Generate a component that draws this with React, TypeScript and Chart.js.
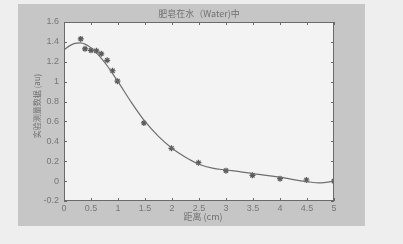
import React, { useEffect, useRef } from "react";
import { Chart, registerables } from "chart.js";

Chart.register(...registerables);

const titleText = "肥皂在水（Water)中";
const xLabel = "距离 (cm)";
const yLabel = "实验测量数据 (au)";

const measX = [0.31, 0.39, 0.5, 0.6, 0.69, 0.8, 0.9, 0.99, 1.48, 1.99, 2.49, 3.0, 3.49, 4.0, 4.49, 5.0];
const measY = [1.43, 1.33, 1.315, 1.31, 1.28, 1.215, 1.11, 1.005, 0.585, 0.33, 0.185, 0.105, 0.058, 0.024, 0.011, 0.0];

const fitX = [0, 0.1, 0.2, 0.3, 0.4, 0.5, 0.6, 0.7, 0.8, 0.9, 1.0, 1.25, 1.5, 1.75, 2.0, 2.25, 2.5, 2.75, 3.0, 3.25, 3.5, 3.75, 4.0, 4.25, 4.5, 4.75, 5.0];
const fitY = [1.32, 1.36, 1.385, 1.39, 1.375, 1.34, 1.29, 1.23, 1.16, 1.08, 1.0, 0.79, 0.6, 0.45, 0.33, 0.24, 0.17, 0.13, 0.112, 0.095, 0.075, 0.058, 0.04, 0.015, -0.005, -0.018, 0.0];

const xTicks = [0, 0.5, 1, 1.5, 2, 2.5, 3, 3.5, 4, 4.5, 5];
const yTicks = [-0.2, 0, 0.2, 0.4, 0.6, 0.8, 1, 1.2, 1.4, 1.6];

const FONT = "'Liberation Sans', Arial, sans-serif";
const CJK = "'Noto Sans CJK SC', sans-serif";

const framePlugin = {
  id: "frame",
  beforeDraw(chart: any) {
    const { ctx, width, height, chartArea: a } = chart;
    ctx.save();
    ctx.fillStyle = "#eeeeee";
    ctx.fillRect(0, 0, width, height);
    ctx.fillStyle = "#c6c6c6";
    ctx.fillRect(18, 4, 347, 222);
    ctx.fillStyle = "#f3f3f3";
    ctx.fillRect(a.left, a.top, a.right - a.left, a.bottom - a.top);
    ctx.restore();
  },
  afterDraw(chart: any) {
    const { ctx, chartArea: a, scales } = chart;
    ctx.save();
    ctx.strokeStyle = "#6a6a6a";
    ctx.lineWidth = 1;
    ctx.strokeRect(a.left + 0.5, a.top + 0.5, a.right - a.left - 1, a.bottom - a.top - 1);
    const t = 3;
    ctx.beginPath();
    for (const v of xTicks) {
      const px = Math.round(scales.x.getPixelForValue(v)) + 0.5;
      ctx.moveTo(px, a.bottom);
      ctx.lineTo(px, a.bottom - t);
      ctx.moveTo(px, a.top);
      ctx.lineTo(px, a.top + t);
    }
    for (const v of yTicks) {
      const py = Math.round(scales.y.getPixelForValue(v)) + 0.5;
      ctx.moveTo(a.left, py);
      ctx.lineTo(a.left + t, py);
      ctx.moveTo(a.right, py);
      ctx.lineTo(a.right - t, py);
    }
    ctx.stroke();
    ctx.fillStyle = "#707070";
    ctx.textAlign = "center";
    ctx.textBaseline = "middle";
    ctx.font = `9px ${CJK}`;
    ctx.fillText(titleText, (a.left + a.right) / 2, 14);
    ctx.fillText(xLabel, (a.left + a.right) / 2 + 4, 217);
    ctx.translate(37, 106);
    ctx.rotate(-Math.PI / 2);
    ctx.font = `8px ${CJK}`;
    ctx.fillText(yLabel, 0, 0);
    ctx.restore();
  },
};

export default function App() {
  const ref = useRef<HTMLCanvasElement>(null);
  useEffect(() => {
    document.body.style.margin = "0";
    const chart = new Chart(ref.current!, {
      type: "scatter",
      data: {
        datasets: [
          {
            type: "line",
            data: fitX.map((x, i) => ({ x, y: fitY[i] })),
            borderColor: "#6e6e6e",
            borderWidth: 1.2,
            pointRadius: 0,
            tension: 0.4,
            cubicInterpolationMode: "monotone",
            fill: false,
          } as any,
          {
            data: measX.map((x, i) => ({ x, y: measY[i] })),
            pointStyle: "star",
            pointRadius: 3,
            borderColor: "#5a5a5a",
            backgroundColor: "#5a5a5a",
            borderWidth: 1.2,
          },
        ],
      },
      options: {
        animation: false,
        responsive: false,
        layout: { padding: { left: 20, top: 22, right: 69, bottom: 3 } },
        plugins: { legend: { display: false }, tooltip: { enabled: false }, title: { display: false } },
        scales: {
          x: {
            type: "linear",
            min: 0,
            max: 5,
            grid: { display: false, drawTicks: false },
            border: { display: false },
            afterBuildTicks: (s: any) => {
              s.ticks = xTicks.map((v) => ({ value: v }));
            },
            afterFit: (s: any) => {
              s.height = 40;
            },
            ticks: {
              color: "#777777",
              font: { family: FONT, size: 9 },
              padding: 2,
              maxRotation: 0,
              autoSkip: false,
              callback: (v: any) => String(v),
            },
          },
          y: {
            type: "linear",
            min: -0.2,
            max: 1.6,
            grid: { display: false, drawTicks: false },
            border: { display: false },
            afterBuildTicks: (s: any) => {
              s.ticks = yTicks.map((v) => ({ value: v }));
            },
            afterFit: (s: any) => {
              s.width = 44;
            },
            ticks: {
              color: "#777777",
              font: { family: FONT, size: 9 },
              padding: 5,
              autoSkip: false,
              callback: (v: any) => String(Math.round(v * 10) / 10),
            },
          },
        },
      },
      plugins: [framePlugin],
    });
    return () => chart.destroy();
  }, []);
  return <canvas ref={ref} width={403} height={244} style={{ display: "block" }} />;
}
